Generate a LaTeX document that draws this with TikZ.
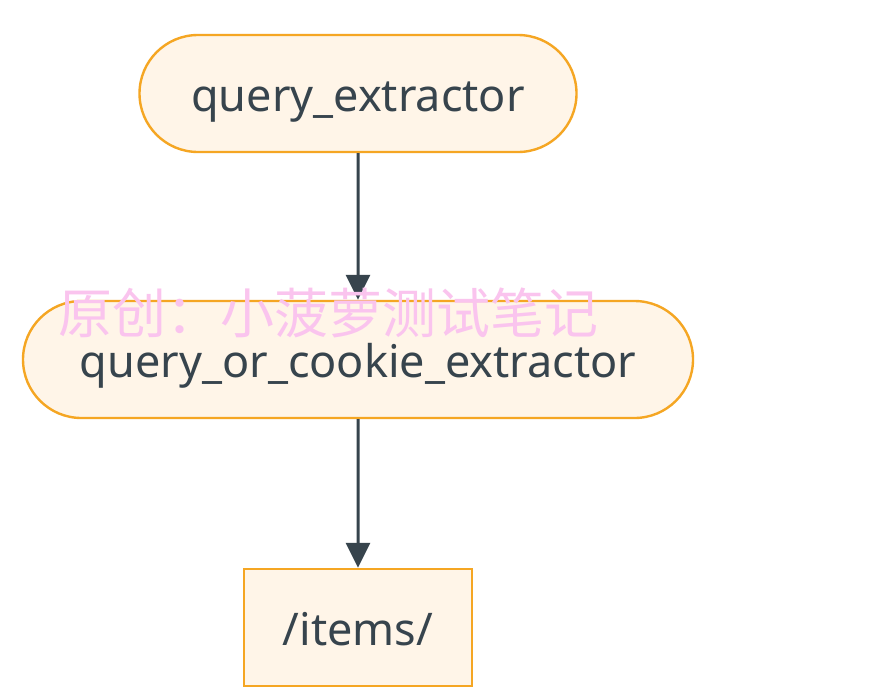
\documentclass[tikz,border=0pt]{standalone}
\usepackage{fontspec}
\setmainfont{Noto Sans}
\newfontfamily\cjk{Noto Sans CJK SC}
\usetikzlibrary{arrows.meta,shapes.misc}
\definecolor{nodefill}{HTML}{FFF5E8}
\definecolor{nodeedge}{HTML}{F5A623}
\definecolor{edgecol}{HTML}{37444D}
\definecolor{wm}{RGB}{250,196,238}
\tikzset{
  stadium/.style={rounded rectangle, draw=nodeedge, fill=nodefill, line width=2.4pt,
     minimum height=117pt, inner sep=0pt, text=edgecol, text height=36pt, text depth=0pt,
     font=\fontsize{45}{54}\selectfont},
  plainbox/.style={rectangle, draw=nodeedge, fill=nodefill, line width=2.4pt,
     minimum height=117pt, minimum width=228pt, inner sep=0pt, text=edgecol,
     text height=36pt, text depth=0pt, font=\fontsize{45}{54}\selectfont},
  link/.style={draw=edgecol, line width=3pt, -{Triangle[length=25pt,width=24pt]}},
}
\begin{document}
\begin{tikzpicture}[x=1pt,y=-1pt]
\useasboundingbox[fill=white] (0,0) rectangle (888,699);
\node[stadium, minimum width=437pt] (a) at (358,93.5) {query\_extractor};
\node[stadium, minimum width=670pt] (b) at (358,359.5) {query\_or\_cookie\_extractor};
\node[plainbox] (c) at (358,627.5) {/items/};
\draw[link] (a) -- (b);
\draw[link] (b) -- (c);
\node[text=wm, font=\cjk\fontsize{54}{60}\selectfont, inner sep=0pt, anchor=west] (w) at (58,313) {原创：小菠萝测试笔记};
\end{tikzpicture}
\end{document}
